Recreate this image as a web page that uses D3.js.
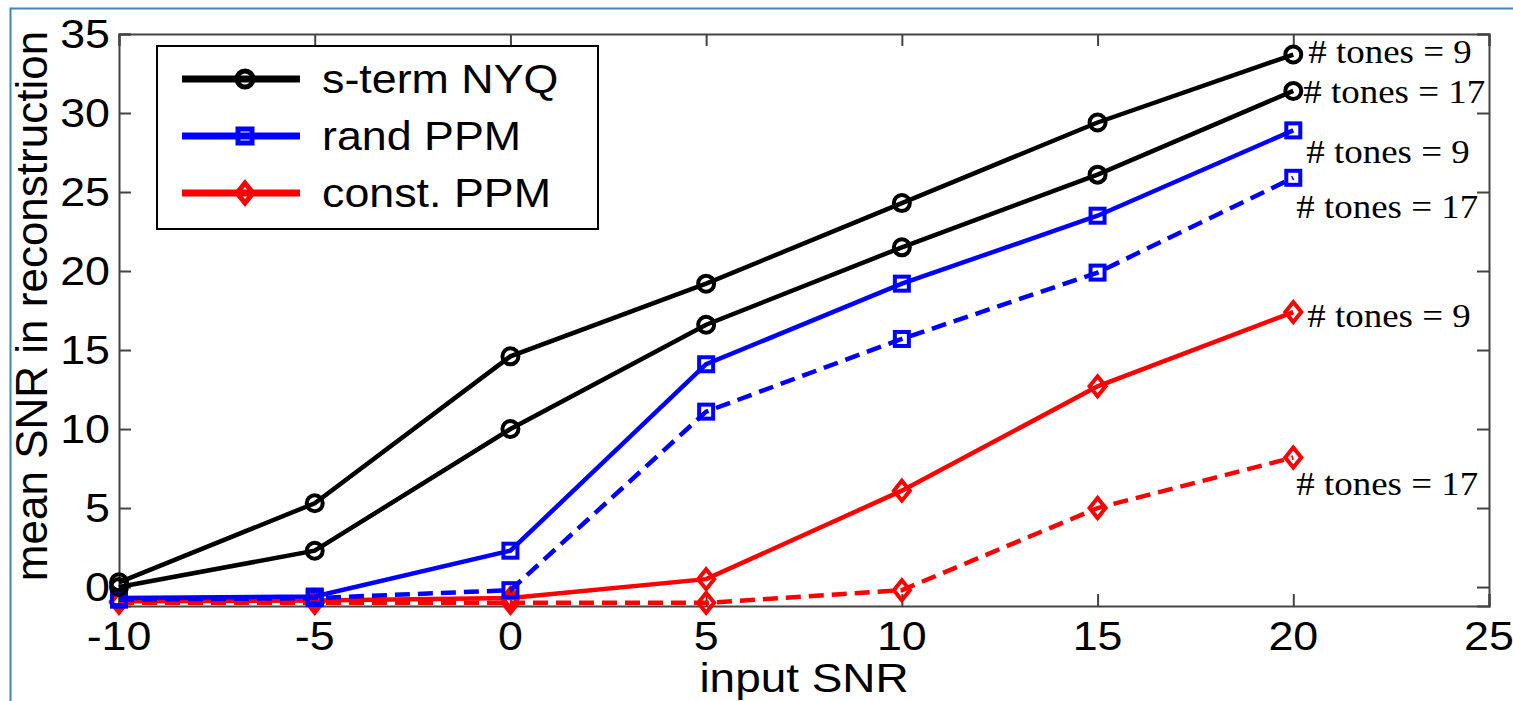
<!DOCTYPE html>
<html>
<head>
<meta charset="utf-8">
<script src="https://cdn.jsdelivr.net/npm/d3@7"></script>
<style>
  body { margin: 0; background: #fff; }
  text { font-family: "Liberation Sans", Arial, sans-serif; fill: #000; }
  .note { font-family: "Liberation Serif", "Times New Roman", serif; }
</style>
</head>
<body>
<div id="chart"></div>
<script>
// input SNR values (x) and mean reconstruction SNR for each curve
var inputSNR = [-10, -5, 0, 5, 10, 15, 20];
var nyqTones9  = [0.3, 5.3, 14.6, 19.2, 24.3, 29.4, 33.7];
var nyqTones17 = [0.0, 2.3, 10.0, 16.6, 21.5, 26.1, 31.4];
var randTones9  = [-0.7, -0.6, 2.3, 14.1, 19.2, 23.5, 28.9];
var randTones17 = [-0.8, -0.7, -0.2, 11.1, 15.7, 19.9, 25.9];
var constTones9  = [-0.9, -0.85, -0.7, 0.5, 6.1, 12.7, 17.4];
var constTones17 = [-1.0, -1.0, -1.0, -1.0, -0.2, 5.0, 8.2];

var legendNames = ["s-term NYQ", "rand PPM", "const. PPM"];
var toneLabels = ["# tones = 9", "# tones = 17"];
var xTicks = [-10, -5, 0, 5, 10, 15, 20, 25];
var yTicks = [0, 5, 10, 15, 20, 25, 30, 35];

var W = 1513, H = 701;
var margin = {left: 119, right: 24, top: 34, bottom: 95};
var width = W - margin.left - margin.right;
var height = H - margin.top - margin.bottom;
var stretch = 1.12; // the picture is a bit wider than tall

var colors = ["#000000", "#0000ff", "#ff0000"];

// one row per drawn line
var series = [
  {values: nyqTones9,   kind: 0, dashed: false, label: 0, dx: 15, dy: 8},
  {values: nyqTones17,  kind: 0, dashed: false, label: 1, dx: 10, dy: 12},
  {values: randTones9,  kind: 1, dashed: false, label: 0, dx: 13, dy: 33},
  {values: randTones17, kind: 1, dashed: true,  label: 1, dx: 3,  dy: 40},
  {values: constTones9, kind: 2, dashed: false, label: 0, dx: 14, dy: 15},
  {values: constTones17, kind: 2, dashed: true, label: 1, dx: 3,  dy: 38}
];

var svg = d3.select("#chart").append("svg")
  .attr("width", W)
  .attr("height", H);

// outer frame of the figure
svg.append("path")
  .attr("d", "M10.5," + H + "V8.5H" + W)
  .attr("fill", "none")
  .attr("stroke", "#3c88b8")
  .attr("stroke-width", 2);

var g = svg.append("g")
  .attr("transform", "translate(" + margin.left + "," + margin.top + ")");

var xScale = d3.scaleLinear().domain([-10, 25]).range([0, width]);
var yScale = d3.scaleLinear().domain([-1.2, 35]).range([height, 0]);

// axes with inward ticks, labels drawn separately
var axisColor = "#444";
var xAxis = d3.axisBottom(xScale).tickValues(xTicks).tickSize(-12).tickFormat("");
var yAxis = d3.axisLeft(yScale).tickValues(yTicks).tickSize(-12).tickFormat("");
var xAxisTop = d3.axisTop(xScale).tickValues(xTicks).tickSize(-12).tickFormat("");
var yAxisRight = d3.axisRight(yScale).tickValues(yTicks).tickSize(-12).tickFormat("");

var gx = g.append("g").attr("transform", "translate(0," + height + ")").call(xAxis);
var gy = g.append("g").call(yAxis);
var gxt = g.append("g").call(xAxisTop);
var gyr = g.append("g").attr("transform", "translate(" + width + ",0)").call(yAxisRight);
[gx, gy, gxt, gyr].forEach(function(a) {
  a.selectAll("path, line").attr("stroke", axisColor).attr("stroke-width", 2);
});

function stretchedText(parent, x, y, txt, size, anchor, cls) {
  return parent.append("text")
    .attr("class", cls || null)
    .attr("transform", "translate(" + x + "," + y + ") scale(" + stretch + ",1)")
    .attr("text-anchor", anchor)
    .attr("font-size", size)
    .text(txt);
}

xTicks.forEach(function(t) {
  stretchedText(g, xScale(t), height + 44, t, 40, "middle");
});
yTicks.forEach(function(t) {
  stretchedText(g, -9, yScale(t) + 14, t, 40, "end");
});

// axis titles
stretchedText(svg, margin.left + width / 2, 692, "input SNR", 41, "middle");
svg.append("text")
  .attr("transform", "translate(47," + (margin.top + 272) + ") rotate(-90)")
  .attr("text-anchor", "middle")
  .attr("font-size", 44)
  .text("mean SNR in reconstruction");

function drawMarker(sel, kind, color) {
  if (kind == 0) {
    sel.append("circle").attr("r", 8);
  } else if (kind == 1) {
    sel.append("rect").attr("x", -7).attr("y", -7).attr("width", 14).attr("height", 14);
  } else {
    sel.append("path").attr("d", "M0,-10L8,0L0,10L-8,0Z");
  }
  sel.selectAll("circle, rect, path")
    .attr("fill", "none")
    .attr("stroke", color)
    .attr("stroke-width", 4);
}

var line = d3.line()
  .x(function(d, i) { return xScale(inputSNR[i]); })
  .y(function(d) { return yScale(d); });

// draw in reverse so the black curves sit on top
series.slice().reverse().forEach(function(s) {
  var c = colors[s.kind];
  g.append("path")
    .datum(s.values)
    .attr("d", line)
    .attr("fill", "none")
    .attr("stroke", c)
    .attr("stroke-width", 4.5)
    .attr("stroke-dasharray", s.dashed ? "15,8" : null);

  g.selectAll(null)
    .data(s.values)
    .enter().append("g")
    .attr("transform", function(d, i) {
      return "translate(" + xScale(inputSNR[i]) + "," + yScale(d) + ")";
    })
    .each(function() { drawMarker(d3.select(this), s.kind, c); });

  var last = s.values.length - 1;
  stretchedText(g, xScale(inputSNR[last]) + s.dx, yScale(s.values[last]) + s.dy,
    toneLabels[s.label], 33, "start", "note");
});

// legend
var legend = svg.append("g").attr("transform", "translate(157,46)");
legend.append("rect")
  .attr("width", 441).attr("height", 183)
  .attr("fill", "#fff")
  .attr("stroke", "#000")
  .attr("stroke-width", 2);

legendNames.forEach(function(name, i) {
  var y = 33 + i * 57;
  legend.append("line")
    .attr("x1", 25).attr("x2", 143)
    .attr("y1", y).attr("y2", y)
    .attr("stroke", colors[i])
    .attr("stroke-width", 7);
  var m = legend.append("g").attr("transform", "translate(88," + y + ")");
  drawMarker(m, i, colors[i]);
  m.selectAll("circle, rect, path").attr("stroke-width", 5);
  stretchedText(legend, 165, y + 14, name, 40, "start");
});
</script>
</body>
</html>
